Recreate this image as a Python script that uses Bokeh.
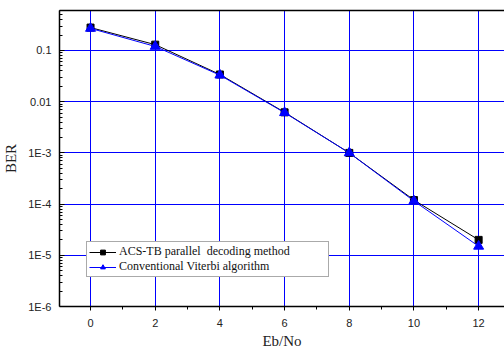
from bokeh.plotting import figure
from bokeh.models import Range1d, FixedTicker, LinearAxis, Legend, LegendItem
from bokeh.embed import file_html
from bokeh.resources import INLINE

# ---- data ----
ebno = [0, 2, 4, 6, 8, 10, 12]
ber_acs = [0.28, 0.13, 0.034, 0.0062, 0.001, 1.2e-4, 2.0e-5]
ber_viterbi = [0.27, 0.12, 0.033, 0.0061, 0.001, 1.15e-4, 1.5e-5]
label_acs = "ACS-TB parallel  decoding method"
label_viterbi = "Conventional Viterbi algorithm"

x_ticks = [0, 2, 4, 6, 8, 10, 12]
x_minor_ticks = [1, 3, 5, 7, 9, 11]
y_ticks = [1e-6, 1e-5, 1e-4, 1e-3, 1e-2, 1e-1]
y_tick_labels = ["1E-6", "1E-5", "1E-4", "1E-3", "0.01", "0.1"]
y_minor_ticks = [m * t for t in y_ticks for m in range(2, 10)]

SANS = "Liberation Sans"
SERIF = "Liberation Serif"

p = figure(width=504, height=351, y_axis_type="log",
           x_range=Range1d(-0.96, 12.80), y_range=Range1d(1e-6, 10 ** -0.219),
           output_backend="svg", toolbar_location=None,
           min_border_left=59, min_border_right=0, min_border_top=10, min_border_bottom=45)
p.outline_line_color = None
p.background_fill_color = "white"
p.border_fill_color = "white"

# axes
p.xaxis.ticker = FixedTicker(ticks=x_ticks, minor_ticks=x_minor_ticks)
p.yaxis.ticker = FixedTicker(ticks=y_ticks, minor_ticks=y_minor_ticks)
p.yaxis.major_label_overrides = {t: l for t, l in zip(y_ticks, y_tick_labels)}

for ax in (p.xaxis[0], p.yaxis[0]):
    ax.axis_line_color = "black"
    ax.axis_line_width = 1.5
    ax.major_tick_line_color = "black"
    ax.minor_tick_line_color = "black"
    ax.major_label_text_font = SANS
    ax.major_label_text_font_size = "11px"
    ax.major_label_text_color = "#222222"
    ax.axis_label_text_font = SERIF
    ax.axis_label_text_font_style = "normal"
    ax.axis_label_text_font_size = "15px"
    ax.axis_label_text_color = "#222222"

p.xaxis.major_tick_out = 4
p.xaxis.major_tick_in = 0
p.xaxis.minor_tick_out = 3
p.xaxis.minor_tick_in = 0
p.xaxis.major_label_standoff = 8
p.xaxis.axis_label = "Eb/No"
p.xaxis.axis_label_standoff = 3

p.yaxis.major_tick_out = 0
p.yaxis.major_tick_in = 5
p.yaxis.minor_tick_out = 0
p.yaxis.minor_tick_in = 3
p.yaxis.major_label_standoff = 8
p.yaxis.axis_label = "BER"
p.yaxis.axis_label_standoff = 6

# top border line
top = LinearAxis(ticker=FixedTicker(ticks=[]), major_label_text_font_size="0px",
                 major_tick_out=0, major_tick_in=0, minor_tick_out=0, minor_tick_in=0,
                 axis_line_color="black", axis_line_width=1.5)
p.add_layout(top, "above")

# grid
p.xgrid.grid_line_color = "#0000ff"
p.xgrid.grid_line_width = 1
p.ygrid.grid_line_color = "#0000ff"
p.ygrid.grid_line_width = 1

# data
l1 = p.line(ebno, ber_acs, line_color="black", line_width=1)
s1 = p.scatter(ebno, ber_acs, marker="square", size=7, fill_color="black", line_color="black")
l2 = p.line(ebno, ber_viterbi, line_color="#0000ff", line_width=1)
s2 = p.scatter(ebno, ber_viterbi, marker="triangle", size=10, fill_color="#0000ff", line_color="#0000ff")

legend = Legend(items=[LegendItem(label=label_acs, renderers=[l1, s1]),
                       LegendItem(label=label_viterbi, renderers=[l2, s2])],
                location=(27, 29))
legend.border_line_color = "#555555"
legend.border_line_width = 1.5
legend.background_fill_color = "white"
legend.background_fill_alpha = 1
legend.label_text_font = SERIF
legend.label_text_font_size = "12px"
legend.label_text_color = "#111111"
legend.glyph_width = 27
legend.glyph_height = 12
legend.label_height = 12
legend.label_width = 207
legend.label_standoff = 3
legend.spacing = 0
legend.padding = 2
legend.margin = 0
p.add_layout(legend, "center")

open("out.html", "w").write(file_html(p, INLINE))
